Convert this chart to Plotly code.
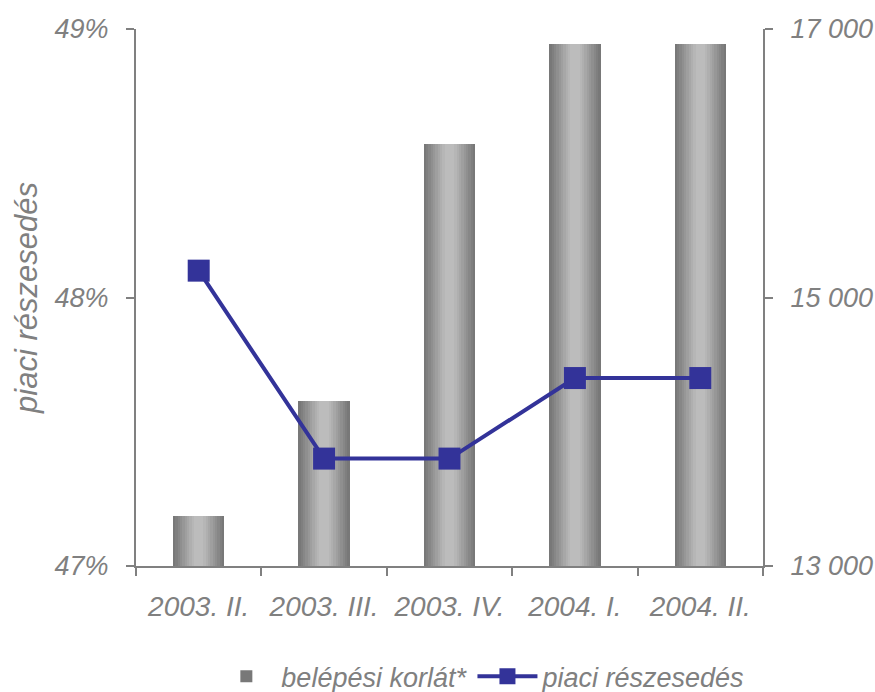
import plotly.graph_objects as go

# Quarterly data
quarters = ["2003. II.", "2003. III.", "2003. IV.", "2004. I.", "2004. II."]
entry_barrier = [13370, 14230, 16140, 16890, 16890]      # belépési korlát* (right axis)
market_share = [48.1, 47.4, 47.4, 47.7, 47.7]            # piaci részesedés, % (left axis)

left_ticks = [47, 48, 49]
left_labels = ["47%", "48%", "49%"]
right_ticks = [13000, 15000, 17000]
right_labels = ["13 000", "15 000", "17 000"]

GRAY = "#808080"
BLUE = "#333399"
FAMILY = "Liberation Sans, Arial, sans-serif"
FONT = dict(family=FAMILY, size=27, color=GRAY, style="italic")
XFONT = dict(family=FAMILY, size=28, color=GRAY, style="italic")

fig = go.Figure()

# Cylinder-like shading: stacked overlay bars, narrower and lighter toward the centre
shades = ["#787878", "#7f7f7f", "#878787", "#8f8f8f", "#979797",
          "#9f9f9f", "#a7a7a7", "#afafaf", "#b6b6b6", "#bcbcbc"]
full_w = 0.41
n = len(shades)
for k, col in enumerate(shades):
    fig.add_trace(go.Bar(
        x=quarters, y=entry_barrier, yaxis="y",
        width=full_w * (1 - k / (n + 1)),
        marker=dict(color=col, line=dict(width=0)),
        name="belépési korlát*",
        showlegend=(k == 0), legendrank=1,
    ))

fig.add_trace(go.Scatter(
    x=quarters, y=market_share, yaxis="y2",
    mode="lines+markers",
    line=dict(color=BLUE, width=4),
    marker=dict(symbol="square", size=22, color=BLUE),
    name="piaci részesedés", legendrank=2,
))

axis_common = dict(showline=True, linecolor=GRAY, linewidth=2,
                   ticks="outside", ticklen=8, tickwidth=2, tickcolor=GRAY,
                   showgrid=False, zeroline=False, automargin=False)

fig.update_layout(
    width=875, height=692,
    margin=dict(l=136, r=112, t=29, b=126, autoexpand=False),
    paper_bgcolor="white", plot_bgcolor="white",
    barmode="overlay", bargap=0,
    font=FONT,
    showlegend=True,
    legend=dict(orientation="h", x=0.55, xanchor="center",
                yref="container", y=0.022, yanchor="middle",
                font=FONT, itemwidth=60),
    xaxis=dict(type="category", tickson="boundaries", tickfont=XFONT,
               ticklabelstandoff=14, **axis_common),
    # bar axis (right side)
    yaxis=dict(range=[13000, 17000], tickvals=right_ticks, ticktext=right_labels,
               side="right", tickfont=FONT, ticklabelstandoff=12, **axis_common),
    # line axis (left side), drawn above the bars
    yaxis2=dict(range=[47, 49], tickvals=left_ticks, ticktext=left_labels,
                overlaying="y", side="left", tickfont=FONT, ticklabelstandoff=12,
                title=dict(text="piaci részesedés",
                           font=dict(family=FAMILY, size=31, color=GRAY, style="italic"),
                           standoff=8),
                **axis_common),
    # inner half of the crossing ticks on the right axis
    yaxis3=dict(range=[13000, 17000], tickvals=right_ticks, overlaying="y",
                side="right", showticklabels=False, showline=False,
                ticks="inside", ticklen=8, tickwidth=2, tickcolor=GRAY,
                showgrid=False, zeroline=False),
)

fig.write_html("out.html")
